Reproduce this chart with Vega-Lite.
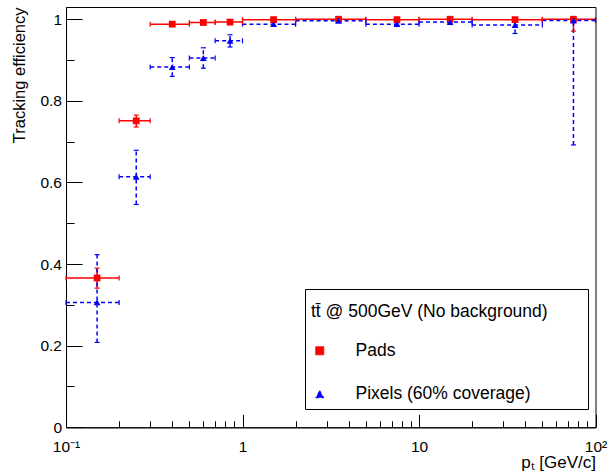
{
  "$schema": "https://vega.github.io/schema/vega-lite/v6.json",
  "width": 529.5,
  "height": 420.3,
  "autosize": {"type": "none"},
  "padding": {"left": 66, "top": 7, "right": 13.5, "bottom": 43.7},
  "background": "white",
  "data": {
    "values": [
      {"series": "Pads", "x": 0.15, "xlo": 0.1, "xhi": 0.2, "y": 0.366, "ylo": 0.341, "yhi": 0.390},
      {"series": "Pads", "x": 0.25, "xlo": 0.2, "xhi": 0.3, "y": 0.751, "ylo": 0.736, "yhi": 0.765},
      {"series": "Pads", "x": 0.4, "xlo": 0.3, "xhi": 0.5, "y": 0.988, "ylo": 0.984, "yhi": 0.991},
      {"series": "Pads", "x": 0.6, "xlo": 0.5, "xhi": 0.7, "y": 0.992, "ylo": 0.989, "yhi": 0.995},
      {"series": "Pads", "x": 0.85, "xlo": 0.7, "xhi": 1, "y": 0.993, "ylo": 0.990, "yhi": 0.996},
      {"series": "Pads", "x": 1.5, "xlo": 1, "xhi": 2, "y": 0.999, "ylo": 0.997, "yhi": 1.0},
      {"series": "Pads", "x": 3.5, "xlo": 2, "xhi": 5, "y": 1.0, "ylo": 0.999, "yhi": 1.0},
      {"series": "Pads", "x": 7.5, "xlo": 5, "xhi": 10, "y": 0.999, "ylo": 0.998, "yhi": 1.0},
      {"series": "Pads", "x": 15, "xlo": 10, "xhi": 20, "y": 1.0, "ylo": 0.998, "yhi": 1.0},
      {"series": "Pads", "x": 35, "xlo": 20, "xhi": 50, "y": 0.999, "ylo": 0.996, "yhi": 1.0},
      {"series": "Pads", "x": 75, "xlo": 50, "xhi": 100, "y": 1.0, "ylo": 0.971, "yhi": 1.0},
      {"series": "Pixels (60% coverage)", "x": 0.15, "xlo": 0.1, "xhi": 0.2, "y": 0.306, "ylo": 0.208, "yhi": 0.423},
      {"series": "Pixels (60% coverage)", "x": 0.25, "xlo": 0.2, "xhi": 0.3, "y": 0.614, "ylo": 0.546, "yhi": 0.679},
      {"series": "Pixels (60% coverage)", "x": 0.4, "xlo": 0.3, "xhi": 0.5, "y": 0.883, "ylo": 0.860, "yhi": 0.906},
      {"series": "Pixels (60% coverage)", "x": 0.6, "xlo": 0.5, "xhi": 0.7, "y": 0.905, "ylo": 0.880, "yhi": 0.930},
      {"series": "Pixels (60% coverage)", "x": 0.85, "xlo": 0.7, "xhi": 1, "y": 0.947, "ylo": 0.932, "yhi": 0.962},
      {"series": "Pixels (60% coverage)", "x": 1.5, "xlo": 1, "xhi": 2, "y": 0.988, "ylo": 0.984, "yhi": 0.992},
      {"series": "Pixels (60% coverage)", "x": 3.5, "xlo": 2, "xhi": 5, "y": 0.996, "ylo": 0.993, "yhi": 0.999},
      {"series": "Pixels (60% coverage)", "x": 7.5, "xlo": 5, "xhi": 10, "y": 0.988, "ylo": 0.985, "yhi": 0.991},
      {"series": "Pixels (60% coverage)", "x": 15, "xlo": 10, "xhi": 20, "y": 0.993, "ylo": 0.990, "yhi": 0.996},
      {"series": "Pixels (60% coverage)", "x": 35, "xlo": 20, "xhi": 50, "y": 0.986, "ylo": 0.965, "yhi": 0.996},
      {"series": "Pixels (60% coverage)", "x": 75, "xlo": 50, "xhi": 100, "y": 0.997, "ylo": 0.692, "yhi": 1.0}
    ]
  },
  "layer": [
    {
      "mark": {"type": "rule", "strokeWidth": 1.5},
      "encoding": {
        "x": {
          "field": "xlo", "type": "quantitative",
          "scale": {"type": "log", "domain": [0.1, 100], "nice": false},
          "axis": {
            "title": "pₜ [GeV/c]",
            "values": [0.1,0.2,0.3,0.4,0.5,0.6,0.7,0.8,0.9,1,2,3,4,5,6,7,8,9,10,20,30,40,50,60,70,80,90,100],
            "labelExpr": "datum.value == 0.1 ? '10⁻¹' : datum.value == 1 ? '1' : datum.value == 10 ? '10' : datum.value == 100 ? '10²' : ''",
            "tickSize": {"condition": {"test": "indexof([0.1,1,10,100], datum.value) >= 0", "value": -13}, "value": -6.5},
            "labelPadding": 25.5,
            "labelFontSize": 15.5,
            "labelFlush": false,
            "labelOverlap": false,
            "titleAnchor": "end",
            "titleFontSize": 17,
            "titleFontWeight": "normal",
            "titlePadding": -7,
            "grid": false
          }
        },
        "x2": {"field": "xhi"},
        "y": {
          "field": "y", "type": "quantitative",
          "scale": {"domain": [0, 1.03], "nice": false, "zero": false},
          "axis": {
            "title": "Tracking efficiency",
            "values": [0,0.05,0.1,0.15,0.2,0.25,0.3,0.35,0.4,0.45,0.5,0.55,0.6,0.65,0.7,0.75,0.8,0.85,0.9,0.95,1],
            "format": "~g",
            "labelExpr": "indexof([0,0.2,0.4,0.6,0.8,1], datum.value) >= 0 ? datum.label : ''",
            "tickSize": {"condition": {"test": "indexof([0,0.2,0.4,0.6,0.8,1], datum.value) >= 0", "value": -16}, "value": -8},
            "labelPadding": 20.5,
            "labelFontSize": 15.5,
            "labelFlush": false,
            "labelOverlap": false,
            "titleAnchor": "end",
            "titleFontSize": 16.5,
            "titleFontWeight": "normal",
            "titlePadding": 12,
            "grid": false
          }
        },
        "color": {
          "field": "series", "type": "nominal",
          "scale": {"domain": ["Pads", "Pixels (60% coverage)"], "range": ["#ff0000", "#0000ff"]},
          "legend": {
            "title": "tt̄ @ 500GeV (No background)\u00a0\u00a0\u00a0\u00a0\u00a0\u00a0\u00a0\u200b",
            "orient": "none",
            "legendX": 239,
            "legendY": 282,
            "padding": 6,
            "strokeColor": "black",
            "fillColor": "white",
            "titleFont": "Liberation Sans",
            "titleFontSize": 17.5,
            "titleFontWeight": "normal",
            "titleColor": "black",
            "titlePadding": 29.5,
            "titleLimit": 500,
            "labelFont": "Liberation Sans",
            "labelFontSize": 17.5,
            "labelColor": "black",
            "labelOffset": 27,
            "labelLimit": 500,
            "symbolSize": 64,
            "rowPadding": 24.5,
            "encode": {
              "title": {"update": {"dy": {"value": 8}}},
              "symbols": {
                "update": {
                  "fill": {"value": {"expr": "datum.value === 'Pads' ? '#ff0000' : '#0000ff'"}},
                  "stroke": {"value": {"expr": "datum.value === 'Pads' ? '#ff0000' : '#0000ff'"}},
                  "strokeWidth": {"value": 1},
                  "size": {"value": 64},
                  "opacity": {"value": 1}
                }
              }
            }
          }
        },
        "strokeDash": {"field": "series", "type": "nominal", "scale": {"domain": ["Pads", "Pixels (60% coverage)"], "range": [[1, 0], [4, 3]]}, "legend": null}
      }
    },
    {
      "mark": {"type": "rule", "strokeWidth": 1.5},
      "encoding": {
        "x": {"field": "x", "type": "quantitative", "scale": {"type": "log", "domain": [0.1, 100], "nice": false}},
        "y": {"field": "ylo", "type": "quantitative", "scale": {"domain": [0, 1.03], "nice": false, "zero": false}},
        "y2": {"field": "yhi"},
        "color": {"field": "series", "type": "nominal"},
        "strokeDash": {"field": "series", "type": "nominal", "legend": null}
      }
    },
    {
      "mark": {"type": "tick", "orient": "vertical", "size": 5, "thickness": 1.2, "opacity": 1},
      "encoding": {
        "x": {"field": "xlo", "type": "quantitative", "scale": {"type": "log", "domain": [0.1, 100], "nice": false}},
        "y": {"field": "y", "type": "quantitative", "scale": {"domain": [0, 1.03], "nice": false, "zero": false}},
        "color": {"field": "series", "type": "nominal"}
      }
    },
    {
      "mark": {"type": "tick", "orient": "vertical", "size": 5, "thickness": 1.2, "opacity": 1},
      "encoding": {
        "x": {"field": "xhi", "type": "quantitative", "scale": {"type": "log", "domain": [0.1, 100], "nice": false}},
        "y": {"field": "y", "type": "quantitative", "scale": {"domain": [0, 1.03], "nice": false, "zero": false}},
        "color": {"field": "series", "type": "nominal"}
      }
    },
    {
      "mark": {"type": "tick", "orient": "horizontal", "size": 5, "thickness": 1.2, "opacity": 1},
      "encoding": {
        "x": {"field": "x", "type": "quantitative", "scale": {"type": "log", "domain": [0.1, 100], "nice": false}},
        "y": {"field": "ylo", "type": "quantitative", "scale": {"domain": [0, 1.03], "nice": false, "zero": false}},
        "color": {"field": "series", "type": "nominal"}
      }
    },
    {
      "mark": {"type": "tick", "orient": "horizontal", "size": 5, "thickness": 1.2, "opacity": 1},
      "encoding": {
        "x": {"field": "x", "type": "quantitative", "scale": {"type": "log", "domain": [0.1, 100], "nice": false}},
        "y": {"field": "yhi", "type": "quantitative", "scale": {"domain": [0, 1.03], "nice": false, "zero": false}},
        "color": {"field": "series", "type": "nominal"}
      }
    },
    {
      "mark": {"type": "point", "filled": true, "opacity": 1, "size": 46},
      "encoding": {
        "x": {"field": "x", "type": "quantitative", "scale": {"type": "log", "domain": [0.1, 100], "nice": false}},
        "y": {"field": "y", "type": "quantitative", "scale": {"domain": [0, 1.03], "nice": false, "zero": false}},
        "shape": {"field": "series", "type": "nominal", "scale": {"domain": ["Pads", "Pixels (60% coverage)"], "range": ["square", "triangle-up"]}, "legend": null},
        "color": {"field": "series", "type": "nominal"}
      }
    }
  ],
  "config": {
    "font": "Liberation Sans",
    "view": {"stroke": "black", "strokeWidth": 1},
    "axis": {
      "domainColor": "black",
      "tickColor": "black",
      "labelColor": "black",
      "titleColor": "black",
      "labelFont": "Liberation Sans",
      "titleFont": "Liberation Sans",
      "tickWidth": 1,
      "domainWidth": 1
    }
  }
}
